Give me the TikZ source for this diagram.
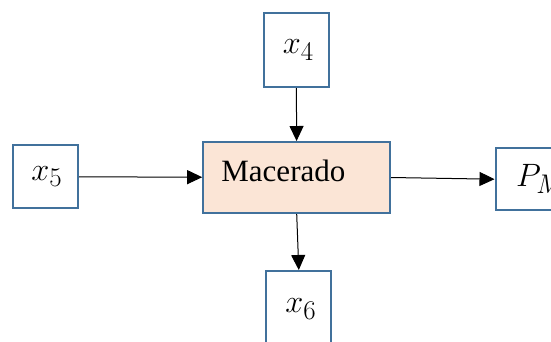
\documentclass[tikz,border=0pt]{standalone}
\usepackage{graphicx}
\usepackage{fontspec}
\setmainfont{Liberation Serif}
\usetikzlibrary{arrows.meta}
\definecolor{boxblue}{HTML}{41719C}
\definecolor{peach}{HTML}{FBE5D6}
\newcommand{\bigvar}[1]{\scalebox{1.3}{$#1$}}
\tikzset{
	varbox/.style={draw=boxblue,line width=2pt,fill=white,inner sep=0pt,
		minimum width=65pt,font=\fontsize{24.88}{30}\selectfont},
	procbox/.style={draw=boxblue,line width=2pt,fill=peach,inner sep=0pt,
		minimum width=187pt,minimum height=71pt},
	flow/.style={line width=1pt,-{Triangle[length=15pt,width=14pt]}}
}
\begin{document}
\begin{tikzpicture}[x=1pt,y=-1pt]
	\useasboundingbox (0,0) rectangle (551,341);
	\clip (0,0) rectangle (551,341);
	% proceso central
	\node[procbox] (mac) at (296.7,177.5) {};
	\node[anchor=base west,inner sep=0pt,font=\fontsize{31}{37}\selectfont]
		(mactext) at ([xshift=19pt,yshift=-4.2pt]mac.west) {Macerado};
	% entradas y salidas
	\node[varbox,minimum height=74pt] (xfour) at (296.3,50) {\hspace*{4pt}\bigvar{x_4}};
	\node[varbox,minimum height=63pt] (xfive) at (45.5,176.7) {\hspace*{3pt}\bigvar{x_5}};
	\node[varbox,minimum height=62pt] (pm) at (528,179.2) {\makebox[0pt][l]{\hspace*{-12pt}\bigvar{P_M}}};
	\node[varbox,minimum height=76pt] (xsix) at (298.8,309) {\hspace*{4pt}\bigvar{x_6}};
	\draw[flow] (xfour) -- (mac);
	\draw[flow] (xfive) -- (mac);
	\draw[flow] (mac.east) -- (pm.west);
	\draw[flow] (mac.south) -- (xsix.north);
\end{tikzpicture}
\end{document}
